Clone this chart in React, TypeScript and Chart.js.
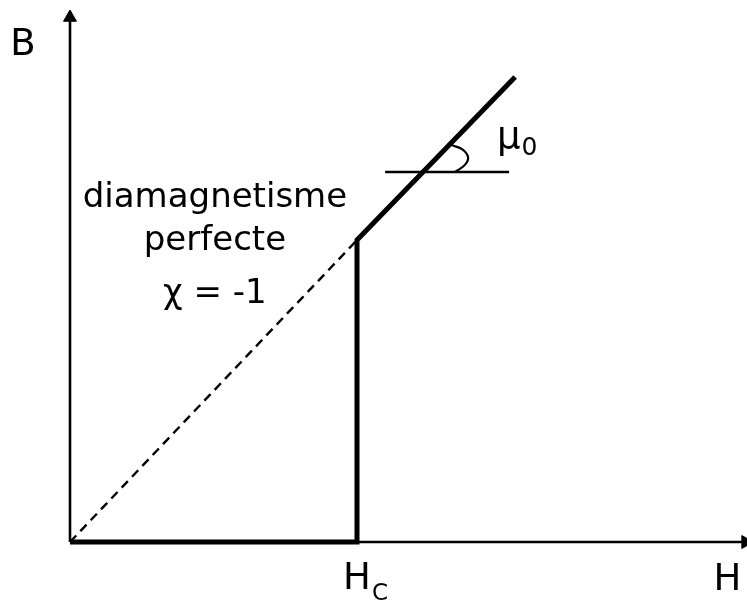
import React, { useEffect, useRef } from "react";
import { Chart, registerables } from "chart.js";

Chart.register(...registerables);

// Units: H and B expressed so that the critical field Hc = 100
const transitionH = [0, 100, 100, 155.1];
const transitionB = [0, 0, 105.2, 162.0];

const dashedH = [0, 100];
const dashedB = [0, 105.2];

const refLineH = [109.8, 153.0];
const refLineB = [128.9, 128.9];

const angleArcH = [132.8, 136.6, 138.7, 137.6, 134.1];
const angleArcB = [138.3, 136.9, 134.1, 131.4, 128.9];

const hAxisH = [0, 235.4];
const hAxisB = [0, 0];

const bAxisH = [0, 0];
const bAxisB = [0, 182.75];

const X_MIN = -24.39;
const X_MAX = 235.89;
const Y_MIN = -21.6;
const Y_MAX = 188.85;

const textLines = ["diamagnetisme", "perfecte", "χ = -1"];
const textLinesH = [50.5, 50.5, 50.5];
const textLinesB = [116.7, 101.7, 83.3];

const toPts = (hs: number[], bs: number[]) => hs.map((h, i) => ({ x: h, y: bs[i] }));

const FONT = '"DejaVu Sans", Verdana, sans-serif';

const labelPlugin = {
  id: "labelPlugin",
  afterDatasetsDraw(chart: any) {
    const { ctx } = chart;
    const xs = chart.scales.x;
    const ys = chart.scales.y;
    const px = (v: number) => xs.getPixelForValue(v);
    const py = (v: number) => ys.getPixelForValue(v);
    ctx.save();
    ctx.fillStyle = "#000";
    ctx.textBaseline = "alphabetic";

    // text block
    ctx.font = `34px ${FONT}`;
    ctx.textAlign = "center";
    textLines.forEach((t, i) => ctx.fillText(t, px(textLinesH[i]), py(textLinesB[i])));

    // B label
    ctx.font = `37px ${FONT}`;
    ctx.textAlign = "center";
    ctx.fillText("B", px(-16.4), py(169.7));

    // H label
    ctx.fillText("H", px(229.1), py(-16.55));

    // Hc label
    const hx = px(100);
    const hy = py(-16.3);
    ctx.fillText("H", hx, hy);
    const w = ctx.measureText("H").width;
    ctx.font = `23px ${FONT}`;
    ctx.textAlign = "left";
    ctx.fillText("C", hx + w / 2 + 1, hy + 11);

    // mu0 label
    ctx.font = `37px ${FONT}`;
    ctx.textAlign = "left";
    const mx = px(148.8);
    const my = py(137.3);
    ctx.fillText("μ", mx, my);
    const mw = ctx.measureText("μ").width;
    ctx.font = `25px ${FONT}`;
    ctx.fillText("0", mx + mw + 1, my + 7);

    ctx.restore();
  },
};

export default function App() {
  const ref = useRef<HTMLCanvasElement>(null);

  useEffect(() => {
    document.body.style.margin = "0";
    const chart = new Chart(ref.current as HTMLCanvasElement, {
      type: "scatter",
      data: {
        datasets: [
          {
            data: toPts(transitionH, transitionB),
            showLine: true,
            borderColor: "#000",
            borderWidth: 5,
            borderJoinStyle: "miter",
            pointRadius: 0,
            clip: false,
          } as any,
          {
            data: toPts(refLineH, refLineB),
            showLine: true,
            borderColor: "#000",
            borderWidth: 2.6,
            pointRadius: 0,
            clip: false,
          },
          {
            data: toPts(angleArcH, angleArcB),
            showLine: true,
            borderColor: "#000",
            borderWidth: 2.2,
            tension: 0.4,
            pointRadius: 0,
            clip: false,
          },
          {
            data: toPts(dashedH, dashedB),
            showLine: true,
            borderColor: "#000",
            borderWidth: 2.4,
            borderDash: [9, 6],
            pointRadius: 0,
            clip: false,
          },
          {
            data: toPts(hAxisH, hAxisB),
            showLine: true,
            borderColor: "#000",
            borderWidth: 2.6,
            pointRadius: [0, 7.5],
            pointStyle: "triangle",
            rotation: 90,
            pointBackgroundColor: "#000",
            pointBorderColor: "#000",
            pointBorderWidth: 1,
            clip: false,
          } as any,
          {
            data: toPts(bAxisH, bAxisB),
            showLine: true,
            borderColor: "#000",
            borderWidth: 2.6,
            pointRadius: [0, 7.5],
            pointStyle: "triangle",
            rotation: 0,
            pointBackgroundColor: "#000",
            pointBorderColor: "#000",
            pointBorderWidth: 1,
            clip: false,
          } as any,
        ],
      },
      options: {
        responsive: false,
        animation: false,
        events: [],
        layout: { padding: 0, autoPadding: false },
        plugins: {
          legend: { display: false },
          tooltip: { enabled: false },
          title: { display: false },
        },
        scales: {
          x: { type: "linear", display: false, min: X_MIN, max: X_MAX },
          y: { type: "linear", display: false, min: Y_MIN, max: Y_MAX },
        },
      } as any,
      plugins: [labelPlugin],
    });
    return () => chart.destroy();
  }, []);

  return (
    <div style={{ width: 747, height: 604, background: "#fff" }}>
      <canvas ref={ref} width={747} height={604} style={{ display: "block", width: 747, height: 604 }} />
    </div>
  );
}
